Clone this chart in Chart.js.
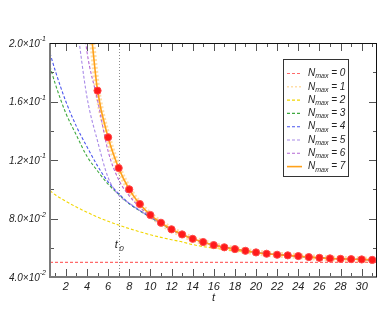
<!DOCTYPE html>
<html>
<head>
<meta charset="utf-8">
<script src="https://cdn.jsdelivr.net/npm/chart.js@4"></script>
<style>
  html, body { margin: 0; padding: 0; background: #fff; }
  canvas { display: block; }
</style>
</head>
<body>
<canvas id="chart" width="382" height="327"></canvas>
<script>
// red dots: exact values
const tDots = [5, 6, 7, 8, 9, 10, 11, 12, 13, 14, 15, 16, 17, 18, 19, 20, 21, 22, 23, 24, 25, 26, 27, 28, 29, 30, 31];
const dotValues = [0.1674, 0.1355, 0.1145, 0.0999, 0.0899, 0.0824, 0.0771, 0.0726, 0.0691, 0.0661, 0.0639, 0.0618, 0.0603,
  0.0591, 0.0579, 0.0568, 0.0559, 0.0552, 0.0548, 0.0543, 0.0536, 0.0531, 0.0527, 0.0524, 0.0522, 0.0520, 0.0517];

// N_max curves (t, value)
const tN0 = [0.5, 31.5];
const n0Values = [0.05, 0.05];

const tN1 = [4, 4.5, 5, 6, 7, 8, 9, 10, 11, 12, 13, 14, 15, 16, 17, 18, 19, 20, 21, 22, 23, 24, 25, 26, 27, 28, 29, 30, 31, 31.5];
const n1Values = [0.238, 0.2, 0.1674, 0.1355, 0.1145, 0.0999, 0.0899, 0.0824, 0.0771, 0.0726, 0.0691, 0.0661, 0.0639, 0.0618, 0.0603,
  0.0591, 0.0579, 0.0568, 0.0559, 0.0552, 0.0548, 0.0543, 0.0536, 0.0531, 0.0527, 0.0524, 0.0522, 0.0520, 0.0517, 0.0516];

const tN2 = [0.5, 1, 2, 3, 4, 5, 6, 7, 8, 9, 10, 11, 12, 13, 14, 15, 16, 17, 18, 19, 20, 21, 22, 23, 24, 25, 26, 27, 28, 29, 30, 31, 31.5];
const n2Values = [0.099, 0.0962, 0.0918, 0.0878, 0.0843, 0.081, 0.0781, 0.0755, 0.0731, 0.0709, 0.0689, 0.0671, 0.0655, 0.064, 0.0622,
  0.0608, 0.0597, 0.0588, 0.058, 0.0574, 0.0566, 0.0558, 0.0552, 0.0548, 0.0543, 0.0536, 0.0531, 0.0527, 0.0524, 0.0522, 0.0520, 0.0517, 0.0516];

const tN3 = [0.5, 1, 2, 3, 4, 5, 6, 7, 8, 9, 10, 11, 12, 13, 14, 15, 16, 17, 18, 19, 20, 21, 22, 23, 24, 25, 26, 27, 28, 29, 30, 31, 31.5];
const n3Values = [0.184, 0.172, 0.152, 0.137, 0.1225, 0.1125, 0.1035, 0.0965, 0.09, 0.0852, 0.0808, 0.0764, 0.0723, 0.069, 0.0661,
  0.0639, 0.0618, 0.0603, 0.0591, 0.0579, 0.0568, 0.0559, 0.0552, 0.0548, 0.0543, 0.0536, 0.0531, 0.0527, 0.0524, 0.0522, 0.0520, 0.0517, 0.0516];

const tN4 = [0.5, 1, 2, 3, 4, 5, 6, 7, 8, 9, 10, 11, 12, 13, 14, 15, 16, 17, 18, 19, 20, 21, 22, 23, 24, 25, 26, 27, 28, 29, 30, 31, 31.5];
const n4Values = [0.193, 0.181, 0.16, 0.143, 0.129, 0.116, 0.105, 0.097, 0.0903, 0.0855, 0.081, 0.0766, 0.0724, 0.069, 0.0661,
  0.0639, 0.0618, 0.0603, 0.0591, 0.0579, 0.0568, 0.0559, 0.0552, 0.0548, 0.0543, 0.0536, 0.0531, 0.0527, 0.0524, 0.0522, 0.0520, 0.0517, 0.0516];

const tN5 = [3, 4, 5, 6, 7, 8, 9, 10, 11, 12, 13, 14, 15, 16, 17, 18, 19, 20, 21, 22, 23, 24, 25, 26, 27, 28, 29, 30, 31, 31.5];
const n5Values = [0.215, 0.163, 0.133, 0.108, 0.096, 0.0905, 0.0855, 0.0808, 0.0766, 0.0724, 0.069, 0.0661,
  0.0639, 0.0618, 0.0603, 0.0591, 0.0579, 0.0568, 0.0559, 0.0552, 0.0548, 0.0543, 0.0536, 0.0531, 0.0527, 0.0524, 0.0522, 0.0520, 0.0517, 0.0516];

const tN6 = [3.5, 4, 5, 6, 7, 8, 9, 10, 11, 12, 13, 14, 15, 16, 17, 18, 19, 20, 21, 22, 23, 24, 25, 26, 27, 28, 29, 30, 31, 31.5];
const n6Values = [0.225, 0.194, 0.161, 0.126, 0.1065, 0.0955, 0.0877, 0.0818, 0.0768, 0.0724, 0.069, 0.0661,
  0.0639, 0.0618, 0.0603, 0.0591, 0.0579, 0.0568, 0.0559, 0.0552, 0.0548, 0.0543, 0.0536, 0.0531, 0.0527, 0.0524, 0.0522, 0.0520, 0.0517, 0.0516];

const tN7 = [4, 4.5, 5, 6, 7, 8, 9, 10, 11, 12, 13, 14, 15, 16, 17, 18, 19, 20, 21, 22, 23, 24, 25, 26, 27, 28, 29, 30, 31, 31.5];
const n7Values = [0.236, 0.2, 0.1674, 0.1355, 0.1145, 0.0999, 0.0899, 0.0824, 0.0771, 0.0726, 0.0691, 0.0661, 0.0639, 0.0618, 0.0603,
  0.0591, 0.0579, 0.0568, 0.0559, 0.0552, 0.0548, 0.0543, 0.0536, 0.0531, 0.0527, 0.0524, 0.0522, 0.0520, 0.0517, 0.0516];

const xTicks = [2, 4, 6, 8, 10, 12, 14, 16, 18, 20, 22, 24, 26, 28, 30];
const yTicks = [0.04, 0.08, 0.12, 0.16, 0.2];
const yTickLabels = [["4.0\u00d710", "-2"], ["8.0\u00d710", "-2"], ["1.2\u00d710", "-1"], ["1.6\u00d710", "-1"], ["2.0\u00d710", "-1"]];
const t0 = 7;

const FONT = "'Liberation Sans', Arial, sans-serif";

function pts(ts, vs) {
  return ts.map((t, i) => ({ x: t, y: vs[i] }));
}

function curve(n, ts, vs, color, extra) {
  return Object.assign({
    label: String(n),
    data: pts(ts, vs),
    borderColor: color,
    backgroundColor: color,
    borderWidth: 1.1,
    borderDash: [3, 2],
    pointRadius: 0,
    cubicInterpolationMode: "monotone",
    order: 10 - n,
  }, extra || {});
}

const datasets = [
  curve(0, tN0, n0Values, "#ff6a6a"),
  curve(1, tN1, n1Values, "rgba(255,200,110,0.6)", { borderWidth: 6, borderDash: [2, 2] }),
  curve(2, tN2, n2Values, "#f2d600"),
  curve(3, tN3, n3Values, "#3fa83f"),
  curve(4, tN4, n4Values, "#4a55ee"),
  curve(5, tN5, n5Values, "#a98be8"),
  curve(6, tN6, n6Values, "#b468d4"),
  curve(7, tN7, n7Values, "#ffa11a", { borderWidth: 1.6, borderDash: [] }),
  {
    label: "dots",
    data: pts(tDots, dotValues),
    showLine: false,
    pointRadius: 3.6,
    pointBackgroundColor: "#ff1a1a",
    pointBorderColor: "#ff4a4a",
    pointBorderWidth: 1,
    order: 0,
  },
];

function supText(ctx, x, y, main, sup, size, align) {
  ctx.font = `italic ${size}px ${FONT}`;
  const wMain = ctx.measureText(main).width;
  ctx.font = `italic ${size * 0.7}px ${FONT}`;
  const wSup = ctx.measureText(sup).width;
  const start = align === "right" ? x - wMain - wSup : x;
  ctx.font = `italic ${size}px ${FONT}`;
  ctx.fillText(main, start, y);
  ctx.font = `italic ${size * 0.7}px ${FONT}`;
  ctx.fillText(sup, start + wMain, y - size * 0.45);
}

const frame = {
  id: "frame",
  beforeDatasetsDraw(chart) {
    const { ctx, chartArea: a, scales: { x } } = chart;
    const px = Math.round(x.getPixelForValue(t0)) + 0.5;
    ctx.save();
    ctx.strokeStyle = "#8a8a8a";
    ctx.lineWidth = 1;
    ctx.setLineDash([1, 2]);
    ctx.beginPath();
    ctx.moveTo(px, a.top);
    ctx.lineTo(px, a.bottom);
    ctx.stroke();
    ctx.restore();
  },
  afterDraw(chart) {
    const { ctx, chartArea: a, scales: { x, y } } = chart;
    ctx.save();
    ctx.fillStyle = "#222";
    ctx.textBaseline = "middle";

    // ticks
    ctx.strokeStyle = "#555";
    ctx.lineWidth = 1;
    for (let t = 1; t <= 31; t++) {
      const px = Math.round(x.getPixelForValue(t)) + 0.5;
      const len = t % 2 === 0 ? 8 : 4;
      ctx.beginPath();
      ctx.moveTo(px, a.bottom);
      ctx.lineTo(px, a.bottom - len);
      ctx.moveTo(px, a.top);
      ctx.lineTo(px, a.top + len);
      ctx.stroke();
    }
    for (let v = 0.06; v < 0.2; v += 0.02) {
      const py = Math.round(y.getPixelForValue(v)) + 0.5;
      const major = Math.round(v * 100) % 4 === 0;
      const len = major ? 8 : 4;
      ctx.beginPath();
      ctx.moveTo(a.left, py);
      ctx.lineTo(a.left + len, py);
      ctx.moveTo(a.right, py);
      ctx.lineTo(a.right - len, py);
      ctx.stroke();
    }

    // axis lines
    ctx.strokeStyle = "#7a7a7a";
    ctx.lineWidth = 2;
    ctx.beginPath();
    ctx.moveTo(a.left, a.top);
    ctx.lineTo(a.left, a.bottom);
    ctx.lineTo(a.right, a.bottom);
    ctx.stroke();
    ctx.strokeStyle = "#111";
    ctx.lineWidth = 1;
    ctx.beginPath();
    ctx.moveTo(a.left, a.top + 0.5);
    ctx.lineTo(a.right, a.top + 0.5);
    ctx.moveTo(a.right - 0.5, a.top);
    ctx.lineTo(a.right - 0.5, a.bottom);
    ctx.stroke();

    // tick labels
    ctx.textAlign = "center";
    ctx.font = `italic 11px ${FONT}`;
    xTicks.forEach(t => ctx.fillText(String(t), x.getPixelForValue(t), a.bottom + 10));
    ctx.fillText("t", (a.left + a.right) / 2, a.bottom + 21);
    ctx.textAlign = "left";
    yTicks.forEach((v, i) => {
      supText(ctx, 46, y.getPixelForValue(v) + 1, yTickLabels[i][0], yTickLabels[i][1], 10, "right");
    });

    // t0 label
    const px0 = x.getPixelForValue(t0);
    supText(ctx, px0 - 4, a.bottom - 32, "t", "", 11, "left");
    ctx.font = `italic 8px ${FONT}`;
    ctx.fillText("0", px0 + 0.5, a.bottom - 28);

    // legend
    const lx = 283.5, ly = 59.5, lw = 65, lh = 117;
    ctx.fillStyle = "#fff";
    ctx.fillRect(lx, ly, lw, lh);
    ctx.strokeStyle = "#333";
    ctx.lineWidth = 1;
    ctx.strokeRect(lx, ly, lw, lh);
    chart.data.datasets.slice(0, 8).forEach((ds, i) => {
      const ry = 73.5 + i * 13.3;
      ctx.strokeStyle = ds.borderColor;
      ctx.lineWidth = i === 1 ? 1.5 : ds.borderWidth;
      ctx.setLineDash(ds.borderDash);
      ctx.beginPath();
      ctx.moveTo(287, ry);
      ctx.lineTo(302, ry);
      ctx.stroke();
      ctx.setLineDash([]);
      ctx.fillStyle = "#222";
      ctx.font = `italic 10px ${FONT}`;
      ctx.fillText("N", 308, ry);
      const wN = ctx.measureText("N").width;
      ctx.font = `italic 7px ${FONT}`;
      ctx.fillText("max", 308 + wN, ry + 3);
      const wM = ctx.measureText("max").width;
      ctx.font = `italic 10px ${FONT}`;
      ctx.fillText(" = " + ds.label, 308 + wN + wM, ry);
    });
    ctx.restore();
  },
};

new Chart(document.getElementById("chart"), {
  type: "line",
  data: { datasets },
  options: {
    responsive: false,
    animation: false,
    devicePixelRatio: 1,
    layout: { padding: { left: 50, right: 0, top: 43, bottom: 50 } },
    plugins: { legend: { display: false }, tooltip: { enabled: false } },
    scales: {
      x: { type: "linear", min: 0.5, max: 31.45, display: false },
      y: { type: "linear", min: 0.04, max: 0.2, display: false },
    },
  },
  plugins: [frame],
});
</script>
</body>
</html>
